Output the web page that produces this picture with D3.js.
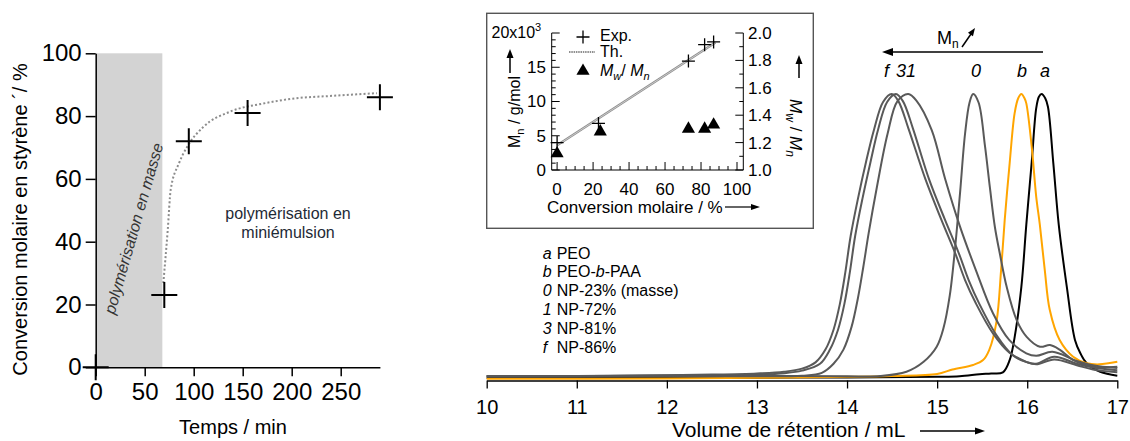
<!DOCTYPE html>
<html><head><meta charset="utf-8">
<script src="https://cdn.jsdelivr.net/npm/d3@7"></script>
<style>body{margin:0;background:#fff}svg{display:block}</style>
</head><body><svg id="c" width="1130" height="441"></svg>
<script>
// ---------- Left chart data ----------
const timeMin = [0, 70, 95, 155, 290];
const convPct = [0, 23, 72, 81, 86];
const fitTime = [69, 73.5, 76.5, 85, 93.5, 110, 137, 171, 205, 239, 287];
const fitConv = [26.8, 43.7, 56.5, 65, 70.3, 76.6, 81.4, 84, 85.7, 86.4, 87.3];
const bulkEnd = 68;
const leftXTicks = [0, 50, 100, 150, 200, 250];
const leftYTicks = [0, 20, 40, 60, 80, 100];

// ---------- Inset data ----------
const insetConv = [0, 23, 73, 82, 87];
const insetMn = [4.0, 6.8, 15.9, 18.3, 18.7];
const insetConvTri = [0, 24, 73, 82, 87];
const insetPDI = [1.12, 1.28, 1.30, 1.30, 1.33];
const thConv = [0, 88];
const thMn = [3.6, 18.6];
const insetXTicks = [0, 20, 40, 60, 80, 100];
const insetMnTicks = [0, 5, 10, 15, 20];
const insetPDITicks = [1.0, 1.2, 1.4, 1.6, 1.8, 2.0];

// ---------- SEC traces (volume mL, normalised intensity) ----------
const curveA = [[10,0],[12,0],[13,0.001],[14,0.002],[15,0.004],[15.25,0.006],[15.47,0.013],[15.6,0.016],[15.73,0.02],[15.805,0.063],[15.861,0.145],[15.935,0.321],[15.99,0.54],[16.05,0.76],[16.10,0.95],[16.13,0.99],[16.16,1.0],[16.2,0.985],[16.23,0.955],[16.29,0.756],[16.35,0.54],[16.44,0.32],[16.53,0.134],[16.59,0.087],[16.66,0.052],[16.81,0.022],[17,0.008]];
const curveB = [[10,-0.003],[12,-0.002],[13,0.001],[14,0.004],[14.5,0.007],[15,0.014],[15.17,0.03],[15.40,0.046],[15.51,0.063],[15.58,0.10],[15.66,0.20],[15.71,0.38],[15.75,0.556],[15.805,0.756],[15.86,0.932],[15.90,0.985],[15.935,1.0],[15.97,0.985],[15.99,0.967],[16.05,0.814],[16.10,0.638],[16.14,0.54],[16.195,0.38],[16.25,0.24],[16.36,0.134],[16.51,0.075],[16.66,0.052],[16.8,0.048],[17,0.057]];
const curve0 = [[10,0.006],[12,0.008],[13,0.008],[14,0.006],[14.37,0.007],[14.66,0.022],[14.85,0.057],[14.995,0.11],[15.07,0.175],[15.14,0.29],[15.2,0.46],[15.254,0.65],[15.31,0.86],[15.36,0.97],[15.40,1.0],[15.46,0.97],[15.53,0.82],[15.586,0.67],[15.642,0.53],[15.698,0.435],[15.772,0.321],[15.883,0.204],[15.994,0.145],[16.142,0.11],[16.253,0.116],[16.364,0.099],[16.511,0.063],[16.733,0.04],[17,0.04]];
const curve1 = [[10,0.005],[12,0.006],[13,0.006],[13.5,0.008],[13.72,0.018],[13.85,0.05],[13.96,0.1],[14.05,0.18],[14.12,0.28],[14.18,0.39],[14.24,0.51],[14.33,0.67],[14.45,0.86],[14.56,0.975],[14.68,1.0],[14.77,0.977],[14.94,0.873],[15.09,0.70],[15.254,0.533],[15.43,0.38],[15.62,0.228],[15.80,0.134],[15.99,0.087],[16.1,0.078],[16.28,0.092],[16.55,0.06],[16.73,0.045],[17,0.035]];
const curve3 = [[10,0.006],[11,0.006],[12,0.009],[12.5,0.01],[13,0.012],[13.3,0.017],[13.5,0.026],[13.7,0.05],[13.81,0.1],[13.90,0.17],[13.97,0.26],[14.03,0.37],[14.09,0.50],[14.17,0.63],[14.26,0.76],[14.345,0.875],[14.445,0.972],[14.543,1.0],[14.62,0.975],[14.73,0.88],[14.91,0.70],[15.09,0.555],[15.24,0.44],[15.35,0.345],[15.47,0.26],[15.66,0.15],[15.84,0.08],[16.0,0.055],[16.1,0.05],[16.3,0.075],[16.55,0.05],[16.73,0.037],[17,0.027]];
const curveF = [[10,0.007],[11,0.007],[12,0.01],[12.5,0.012],[13,0.016],[13.3,0.022],[13.5,0.033],[13.65,0.055],[13.76,0.1],[13.85,0.17],[13.92,0.26],[13.98,0.37],[14.04,0.50],[14.12,0.63],[14.21,0.76],[14.30,0.875],[14.40,0.972],[14.496,1.0],[14.57,0.975],[14.68,0.88],[14.87,0.70],[15.05,0.555],[15.20,0.44],[15.31,0.345],[15.43,0.263],[15.62,0.157],[15.80,0.09],[15.99,0.057],[16.1,0.048],[16.3,0.065],[16.55,0.045],[16.73,0.03],[17,0.02]];
const secXTicks = [10, 11, 12, 13, 14, 15, 16, 17];
const legendKeys = ["a", "b", "0", "1", "3", "f"];
const legendNames = ["PEO", "PEO-b-PAA", "NP-23% (masse)", "NP-72%", "NP-81%", "NP-86%"];

const F = '"Liberation Sans", Arial, Helvetica, sans-serif';
const svg = d3.select("#c");

function styleAxis(g, fs, w) {
  g.attr("font-family", F).attr("font-size", fs);
  g.selectAll("path.domain").attr("stroke", "#000").attr("stroke-width", w);
  g.selectAll(".tick line").attr("stroke", "#000").attr("stroke-width", w);
  g.selectAll(".tick text").attr("fill", "#000");
}
function arrowHead(g, x, y, ang, len, wid, col) {
  const c = Math.cos(ang), s = Math.sin(ang);
  const bx = x - c * len, by = y - s * len;
  const p = [[x, y], [bx - s * wid, by + c * wid], [bx + s * wid, by - c * wid]];
  g.append("path").attr("d", "M" + p.map(q => q.join(",")).join("L") + "Z").attr("fill", col);
}

// ================= LEFT CHART =================
const xL = d3.scaleLinear().domain([0, 290]).range([95.7, 379.9]);
const yL = d3.scaleLinear().domain([0, 100]).range([367.3, 53.3]);
const gL = svg.append("g");
gL.append("rect").attr("x", xL(0)).attr("y", yL(100)).attr("width", xL(bulkEnd) - xL(0))
  .attr("height", yL(0) - yL(100)).attr("fill", "#d3d3d3");

const ayL = gL.append("g").attr("transform", `translate(${xL(0)},0)`)
  .call(d3.axisLeft(yL).tickValues(leftYTicks).tickSize(10).tickSizeOuter(0).tickPadding(4));
styleAxis(ayL, 24, 1.5);
const axL = gL.append("g").attr("transform", `translate(0,${yL(0)})`)
  .call(d3.axisBottom(xL).tickValues(leftXTicks).tickSize(9).tickSizeOuter(0).tickPadding(7));
styleAxis(axL, 24, 1.5);

gL.append("path").datum(d3.range(fitTime.length))
  .attr("d", d3.line().x(i => xL(fitTime[i])).y(i => yL(fitConv[i])).curve(d3.curveMonotoneX))
  .attr("fill", "none").attr("stroke", "#8c8c8c").attr("stroke-width", 2).attr("stroke-dasharray", "2,2.2");

gL.selectAll("path.cross").data(d3.range(timeMin.length)).join("path")
  .attr("d", i => { const x = xL(timeMin[i]), y = yL(convPct[i]); return `M${x - 13},${y}H${x + 13}M${x},${y - 13}V${y + 13}`; })
  .attr("stroke", "#000").attr("stroke-width", 2).attr("fill", "none");

gL.append("text").attr("transform", "translate(27,219.5) rotate(-90)").attr("text-anchor", "middle")
  .attr("font-family", F).attr("font-size", 20).attr("fill", "#000")
  .text("Conversion molaire en styrène \u00B4/ %");
gL.append("text").attr("x", 233).attr("y", 434).attr("text-anchor", "middle")
  .attr("font-family", F).attr("font-size", 20).attr("fill", "#000").text("Temps / min");
gL.append("text").attr("transform", "translate(139,230) rotate(-74)").attr("text-anchor", "middle")
  .attr("font-family", F).attr("font-size", 16).attr("font-style", "italic").attr("fill", "#333")
  .text("polymérisation en masse");
gL.append("text").attr("x", 288).attr("y", 219).attr("text-anchor", "middle")
  .attr("font-family", F).attr("font-size", 16).attr("fill", "#1e2a36").text("polymérisation en");
gL.append("text").attr("x", 288).attr("y", 238).attr("text-anchor", "middle")
  .attr("font-family", F).attr("font-size", 16).attr("fill", "#1e2a36").text("miniémulsion");

// ================= RIGHT CHART (SEC) =================
const xr = d3.scaleLinear().domain([10, 17]).range([486.7, 1117.3]);
const yr = d3.scaleLinear().domain([0, 1]).range([378, 94]);
const gR = svg.append("g");
const axR = gR.append("g").attr("transform", "translate(0,380.5)")
  .call(d3.axisBottom(xr).tickValues(secXTicks).tickFormat(d3.format("d")).tickSize(8).tickSizeOuter(0).tickPadding(11));
styleAxis(axR, 20, 1.3);

const line = d3.line().x(d => xr(d[0])).y(d => yr(d[1])).curve(d3.curveCatmullRom.alpha(0.5));
const traces = [[curveA, "#000"], [curveB, "#FFA500"], [curve0, "#595959"], [curve1, "#595959"], [curve3, "#595959"], [curveF, "#595959"]];
traces.forEach(([c, col]) => {
  gR.append("path").datum(c).attr("d", line).attr("fill", "none").attr("stroke", col).attr("stroke-width", 2);
});

gR.append("text").attr("x", 672).attr("y", 437).attr("font-family", F).attr("font-size", 21).attr("fill", "#000")
  .text("Volume de rétention / mL");
gR.append("line").attr("x1", 920).attr("x2", 976).attr("y1", 431).attr("y2", 431).attr("stroke", "#000").attr("stroke-width", 1.3);
arrowHead(gR, 985, 431, 0, 10, 3.5, "#000");

const peakLab = [["f", 884], ["31", 896], ["0", 971], ["b", 1017], ["a", 1040]];
peakLab.forEach(([t, x]) => gR.append("text").attr("x", x).attr("y", 77).attr("font-family", F)
  .attr("font-size", 18).attr("font-style", "italic").attr("fill", "#000").text(t));

gR.append("line").attr("x1", 1043).attr("x2", 892).attr("y1", 52).attr("y2", 52).attr("stroke", "#000").attr("stroke-width", 1.3);
arrowHead(gR, 882, 52, Math.PI, 11, 4, "#000");
const mn = gR.append("text").attr("x", 937).attr("y", 44).attr("font-family", F).attr("font-size", 18).attr("fill", "#000");
mn.append("tspan").text("M");
mn.append("tspan").attr("font-size", 12).attr("dy", 4).text("n");
gR.append("line").attr("x1", 962).attr("y1", 47).attr("x2", 971).attr("y2", 34).attr("stroke", "#000").attr("stroke-width", 1.5);
arrowHead(gR, 975, 28, Math.atan2(-13, 9), 8, 3, "#000");

legendKeys.forEach((k, i) => {
  const y = 258.5 + i * 18.9;
  gR.append("text").attr("x", 542.7).attr("y", y).attr("font-family", F).attr("font-size", 16)
    .attr("font-style", "italic").attr("fill", "#000").text(k);
  const t = gR.append("text").attr("x", 556.7).attr("y", y).attr("font-family", F).attr("font-size", 16).attr("fill", "#000");
  if (legendNames[i] === "PEO-b-PAA") {
    t.append("tspan").text("PEO-");
    t.append("tspan").attr("font-style", "italic").text("b");
    t.append("tspan").text("-PAA");
  } else t.text(legendNames[i]);
});

// ================= INSET =================
const gI = svg.append("g");
gI.append("rect").attr("x", 486.7).attr("y", 13.3).attr("width", 326.6).attr("height", 215)
  .attr("fill", "#fff").attr("stroke", "#555").attr("stroke-width", 1.4);
const xi = d3.scaleLinear().domain([-3, 103.5]).range([551.7, 743.3]);
const yiL = d3.scaleLinear().domain([0, 20]).range([170, 33]);
const yiR = d3.scaleLinear().domain([1, 2]).range([170, 33]);
const X0 = xi.range()[0], X1 = xi.range()[1];
gI.append("path").attr("d", `M${X0},${yiL(20)}V${yiL(0)}H${X1}V${yiR(2)}`).attr("fill", "none").attr("stroke", "#000").attr("stroke-width", 1);
yiL.ticks(20).forEach(v => {
  const maj = insetMnTicks.includes(v);
  gI.append("line").attr("x1", X0).attr("x2", X0 + (maj ? 8 : 4)).attr("y1", yiL(v)).attr("y2", yiL(v)).attr("stroke", "#000").attr("stroke-width", 1);
});
insetMnTicks.filter(v => v < 20).forEach(v => gI.append("text").attr("x", 546).attr("y", yiL(v)).attr("dy", "0.35em")
  .attr("text-anchor", "end").attr("font-family", F).attr("font-size", 17).attr("fill", "#000").text(v));
const t20 = gI.append("text").attr("x", 491.5).attr("y", 38).attr("font-family", F).attr("font-size", 16).attr("fill", "#000");
t20.append("tspan").text("20x10");
t20.append("tspan").attr("font-size", 11).attr("dy", -7).text("3");
yiR.ticks(10).forEach(v => {
  const maj = insetPDITicks.some(t => Math.abs(t - v) < 1e-6);
  gI.append("line").attr("x1", X1).attr("x2", X1 - (maj ? 8 : 4)).attr("y1", yiR(v)).attr("y2", yiR(v)).attr("stroke", "#000").attr("stroke-width", 1);
});
insetPDITicks.forEach(v => gI.append("text").attr("x", 748).attr("y", yiR(v)).attr("dy", "0.35em")
  .attr("font-family", F).attr("font-size", 17).attr("fill", "#000").text(v.toFixed(1)));
d3.range(0, 101, 5).forEach(v => {
  const maj = insetXTicks.includes(v);
  gI.append("line").attr("x1", xi(v)).attr("x2", xi(v)).attr("y1", yiL(0)).attr("y2", yiL(0) - (maj ? 8 : 4)).attr("stroke", "#000").attr("stroke-width", 1);
});
insetXTicks.forEach(v => gI.append("text").attr("x", xi(v)).attr("y", 195).attr("text-anchor", "middle")
  .attr("font-family", F).attr("font-size", 17).attr("fill", "#000").text(v));
gI.append("text").attr("x", 547).attr("y", 213).attr("font-family", F).attr("font-size", 17).attr("fill", "#000").text("Conversion molaire / %");
gI.append("line").attr("x1", 725).attr("x2", 752).attr("y1", 207).attr("y2", 207).attr("stroke", "#000").attr("stroke-width", 1.2);
arrowHead(gI, 760, 207, 0, 9, 3, "#000");

const lt = gI.append("text").attr("transform", "translate(520,112) rotate(-90)").attr("text-anchor", "middle")
  .attr("font-family", F).attr("font-size", 16).attr("fill", "#000");
lt.append("tspan").text("M");
lt.append("tspan").attr("font-size", 11).attr("dy", 4).text("n");
lt.append("tspan").attr("dy", -4).text(" / g/mol");
gI.append("line").attr("x1", 510).attr("x2", 510).attr("y1", 73).attr("y2", 57).attr("stroke", "#000").attr("stroke-width", 1.5);
arrowHead(gI, 510, 49, -Math.PI / 2, 9, 3.5, "#000");

const rt = gI.append("text").attr("transform", "translate(790,128) rotate(90)").attr("text-anchor", "middle")
  .attr("font-family", F).attr("font-size", 17).attr("fill", "#000");
rt.append("tspan").attr("font-style", "italic").text("M");
rt.append("tspan").attr("font-style", "italic").attr("font-size", 12).attr("dy", 4).text("w");
rt.append("tspan").attr("dy", -4).text(" / ");
rt.append("tspan").attr("font-style", "italic").text("M");
rt.append("tspan").attr("font-style", "italic").attr("font-size", 12).attr("dy", 4).text("n");
gI.append("line").attr("x1", 799).attr("x2", 799).attr("y1", 78).attr("y2", 63).attr("stroke", "#000").attr("stroke-width", 1.5);
arrowHead(gI, 799, 55, -Math.PI / 2, 9, 3.5, "#000");

// theoretical line (double grey line)
const thPath = d3.line().x(i => xi(thConv[i])).y(i => yiL(thMn[i]));
gI.append("path").datum(d3.range(thConv.length)).attr("d", thPath).attr("stroke", "#8f8f8f").attr("stroke-width", 2.4).attr("fill", "none");
gI.append("path").datum(d3.range(thConv.length)).attr("d", thPath).attr("stroke", "#e2e2e2").attr("stroke-width", 0.7).attr("fill", "none");
gI.selectAll("path.ex").data(d3.range(insetConv.length)).join("path")
  .attr("d", i => { const x = xi(insetConv[i]), y = yiL(insetMn[i]); return `M${x - 6.5},${y}H${x + 6.5}M${x},${y - 6.5}V${y + 6.5}`; })
  .attr("stroke", "#000").attr("stroke-width", 1.3).attr("fill", "none");
const tri = d3.symbol().type(d3.symbolTriangle).size(75);
gI.selectAll("path.tri").data(d3.range(insetConvTri.length)).join("path")
  .attr("d", tri).attr("transform", i => `translate(${xi(insetConvTri[i])},${yiR(insetPDI[i])})`).attr("fill", "#000");

gI.append("path").attr("d", "M576.5,37H589.5M583,30.5V43.5").attr("stroke", "#000").attr("stroke-width", 1.3);
gI.append("text").attr("x", 600).attr("y", 41).attr("font-family", F).attr("font-size", 16).attr("fill", "#000").text("Exp.");
gI.append("line").attr("x1", 569).attr("x2", 595).attr("y1", 52).attr("y2", 52).attr("stroke", "#8f8f8f").attr("stroke-width", 2.2).attr("stroke-dasharray", "1.5,0.8");
gI.append("text").attr("x", 600).attr("y", 57).attr("font-family", F).attr("font-size", 16).attr("fill", "#000").text("Th.");
gI.append("path").attr("d", tri).attr("transform", "translate(583,71)").attr("fill", "#000");
const lg = gI.append("text").attr("x", 600).attr("y", 76).attr("font-family", F).attr("font-size", 16).attr("fill", "#000");
lg.append("tspan").attr("font-style", "italic").text("M");
lg.append("tspan").attr("font-style", "italic").attr("font-size", 11).attr("dy", 4).text("w");
lg.append("tspan").attr("dy", -4).text("/ ");
lg.append("tspan").attr("font-style", "italic").text("M");
lg.append("tspan").attr("font-style", "italic").attr("font-size", 11).attr("dy", 4).text("n");
</script></body></html>
